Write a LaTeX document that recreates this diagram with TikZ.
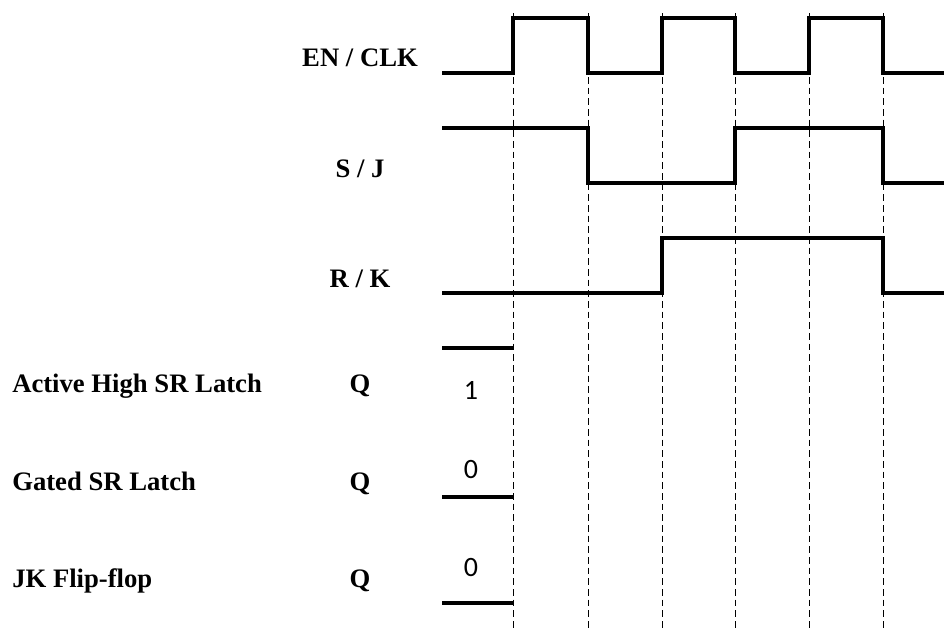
\documentclass[tikz,border=0pt]{standalone}
\usepackage{fontspec}
\setmainfont{Liberation Serif}
\newfontfamily\digitfont{Carlito}
\begin{document}
\begin{tikzpicture}[x=0.75pt,y=-0.75pt,
  wave/.style={line width=2.3pt, line join=miter, line cap=butt},
  guide/.style={line width=0.7pt, dash pattern=on 5pt off 3pt},
  siglabel/.style={font=\fontsize{20}{24}\selectfont\bfseries, anchor=base, inner sep=0pt},
  rowlabel/.style={font=\fontsize{20}{24}\selectfont\bfseries, anchor=base west, inner sep=0pt},
  level/.style={font=\digitfont\fontsize{21}{25}\selectfont, anchor=base, inner sep=0pt}]
\useasboundingbox (0,0) rectangle (944,628);

% clock edge guides
\foreach \x in {513,588,662,735,809,883}
  \draw[guide] (\x,13) -- (\x,628);

% EN / CLK
\draw[wave] (442,73) -- (513,73) -- (513,18) -- (588,18) -- (588,73)
  -- (662,73) -- (662,18) -- (735,18) -- (735,73) -- (809,73)
  -- (809,18) -- (883,18) -- (883,73) -- (944,73);
% S / J
\draw[wave] (442,128) -- (588,128) -- (588,183) -- (735,183)
  -- (735,128) -- (883,128) -- (883,183) -- (944,183);
% R / K
\draw[wave] (442,293) -- (662,293) -- (662,238) -- (883,238)
  -- (883,293) -- (944,293);

% initial output states
\draw[wave] (442,348) -- (513,348);
\draw[wave] (442,497) -- (513,497);
\draw[wave] (442,603) -- (513,603);

% signal names
\node[siglabel] (clk) at (360,66) {EN / CLK};
\node[siglabel] (sj) at (360,177) {S / J};
\node[siglabel] (rk) at (360,287) {R / K};
\node[siglabel] (q1) at (360,392) {Q};
\node[siglabel] (q2) at (360,490) {Q};
\node[siglabel] (q3) at (360,587) {Q};

% circuit names
\node[rowlabel] (srl) at (12,392) {Active High SR Latch};
\node[rowlabel] (gsr) at (12,490) {Gated SR Latch};
\node[rowlabel] (jkf) at (12,587) {JK Flip-flop};

% initial values
\node[level] (v1) at (471,399) {1};
\node[level] (v2) at (471,478) {0};
\node[level] (v3) at (471,576) {0};
\end{tikzpicture}
\end{document}
